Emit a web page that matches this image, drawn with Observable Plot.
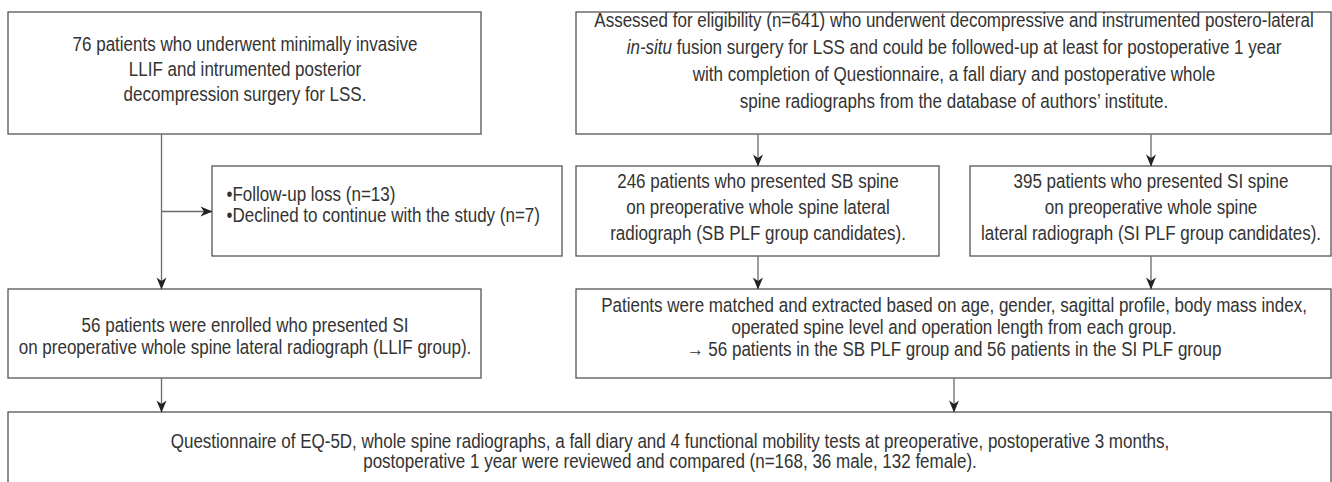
<!DOCTYPE html>
<html><head><meta charset="utf-8">
<script src="https://cdn.jsdelivr.net/npm/d3@7"></script>
<script src="https://cdn.jsdelivr.net/npm/@observablehq/plot@0.6"></script>
<style>html,body{margin:0;padding:0;background:#fff;overflow:hidden}</style>
</head><body><div id="chart"></div>
<script>
// ---- content (text of each box) ----
const boxNames = ["llif", "assessed", "excluded", "sb", "si", "llifGroup", "matched", "final"];
const llifText = ["76 patients who underwent minimally invasive", "LLIF and intrumented posterior", "decompression surgery for LSS."];
const assessedText = ["Assessed for eligibility (n=641) who underwent decompressive and instrumented postero-lateral",
  "in-situ fusion surgery for LSS and could be followed-up at least for postoperative 1 year",
  "with completion of Questionnaire, a fall diary and postoperative whole",
  "spine radiographs from the database of authors\u2019 institute."];
const excludedText = ["\u2022Follow-up loss (n=13)", "\u2022Declined to continue with the study (n=7)"];
const sbText = ["246 patients who presented SB spine", "on preoperative whole spine lateral", "radiograph (SB PLF group candidates)."];
const siText = ["395 patients who presented SI spine", "on preoperative whole spine", "lateral radiograph (SI PLF group candidates)."];
const llifGroupText = ["56 patients were enrolled who presented SI", "on preoperative whole spine lateral radiograph (LLIF group)."];
const matchedText = ["Patients were matched and extracted based on age, gender, sagittal profile, body mass index,",
  "operated spine level and operation length from each group.",
  "\u2192 56 patients in the SB PLF group and 56 patients in the SI PLF group"];
const finalText = ["Questionnaire of EQ-5D, whole spine radiographs, a fall diary and 4 functional mobility tests at preoperative, postoperative 3 months,",
  "postoperative 1 year were reviewed and compared (n=168, 36 male, 132 female)."];
const italicWords = ["in-situ"];
// flow connections
const edgeFrom = ["llif", "llif", "assessed", "assessed", "sb", "si", "llifGroup", "matched"];
const edgeTo   = ["llifGroup", "excluded", "sb", "si", "matched", "matched", "final", "final"];

// ---- layout (pixel grid of the flowchart) ----
const W = 1332, H = 482;
const cols = {L: [8, 481], EX: [212, 562], R: [576, 1331], SB: [576, 939], SI: [970, 1331], ALL: [8, 1331]};
const rows = {r1: [12, 134], r2: [166, 256], r3: [289, 378], r4: [412, 520]};
const place = {
  llif: ["L", "r1"], assessed: ["R", "r1"], excluded: ["EX", "r2"], sb: ["SB", "r2"], si: ["SI", "r2"],
  llifGroup: ["L", "r3"], matched: ["R", "r3"], final: ["ALL", "r4"]
};
const leftLane = 161;
// text block vertical centre and line spacing per box
const textBlock = {
  llif: [75, 25], assessed: [67, 27], excluded: [211, 21], sb: [213, 26], si: [213, 26],
  llifGroup: [342, 22], matched: [333, 22], final: [457.5, 20.5]
};
const texts = {llif: llifText, assessed: assessedText, excluded: excludedText, sb: sbText, si: siText,
  llifGroup: llifGroupText, matched: matchedText, final: finalText};

const boxes = boxNames.map(name => {
  const [c, r] = place[name];
  const [x1, x2] = cols[c], [y1, y2] = rows[r];
  return {name, x1, x2, y1, y2, cx: (x1 + x2) / 2, cy: (y1 + y2) / 2};
});
const B = Object.fromEntries(boxes.map(b => [b.name, b]));

// font: regular sans, horizontally condensed to match the reference's condensed face
const fam = '"Liberation Sans", Arial, "Noto Sans", sans-serif';
const fontSize = 19.5;
const ctx = document.createElement("canvas").getContext("2d");
ctx.font = `${fontSize}px ${fam}`;
const squeeze = 720 / ctx.measureText(assessedText[0]).width;

const centered = [], leftAligned = [];
for (const b of boxes) {
  const t = texts[b.name];
  const [cy, gap] = textBlock[b.name];
  const left = b.name === "excluded";
  t.forEach((s, i) => {
    (left ? leftAligned : centered).push({text: s, x: left ? b.x1 + 14 : b.cx, y: cy + (i - (t.length - 1) / 2) * gap});
  });
}

// connectors
const segs = [], heads = [];
edgeFrom.forEach((f, i) => {
  const a = B[f], b = B[edgeTo[i]];
  if (f === "llif" && edgeTo[i] === "excluded") {
    segs.push({x1: leftLane, y1: b.cy, x2: b.x1, y2: b.cy});
    heads.push({x: b.x1, y: b.cy, rot: -90});
    return;
  }
  let x;
  if (a.cx < 400) x = leftLane;
  else x = (a.x2 - a.x1) < (b.x2 - b.x1) ? a.cx : b.cx;
  segs.push({x1: x, y1: a.y2, x2: x, y2: b.y1});
  heads.push({x, y: b.y1, rot: 0});
});

const arrowHead = {
  draw(c) {
    c.moveTo(0, 0);
    c.lineTo(-5, -12);
    c.lineTo(0, -8.5);
    c.lineTo(5, -12);
    c.closePath();
  }
};

const textStyle = {x: "x", y: "y", text: "text", fontSize, fontFamily: fam, fill: "#333"};
const plot = Plot.plot({
  width: W, height: H,
  margin: 0,
  x: {domain: [0, W], range: [0, W], axis: null},
  y: {domain: [0, H], range: [0, H], axis: null},
  style: {background: "#fff"},
  marks: [
    Plot.link(segs, {x1: "x1", y1: "y1", x2: "x2", y2: "y2", stroke: "#6a6a6a", strokeWidth: 1.3}),
    Plot.rect(boxes, {x1: "x1", x2: "x2", y1: "y1", y2: "y2", fill: "white", stroke: "#555", strokeWidth: 1.3, clip: true}),
    Plot.dot(heads, {x: "x", y: "y", rotate: "rot", symbol: arrowHead, fill: "#222", stroke: "none", r: 5}),
    Plot.text(centered, {...textStyle, textAnchor: "middle"}),
    Plot.text(leftAligned, {...textStyle, textAnchor: "start"})
  ]
});

// italic words and horizontal condensing of text
d3.select(plot).selectAll("text").each(function () {
  const s = this.textContent;
  for (const w of italicWords) {
    const k = s.indexOf(w);
    if (k >= 0) {
      const sel = d3.select(this);
      sel.text(null);
      if (k > 0) sel.append("tspan").text(s.slice(0, k));
      sel.append("tspan").attr("font-style", "italic").text(w);
      sel.append("tspan").text(s.slice(k + w.length));
    }
  }
  let tr = this.getAttribute("transform") || "";
  if (this.hasAttribute("x") || this.hasAttribute("y")) {
    const x = +this.getAttribute("x") || 0, y = +this.getAttribute("y") || 0;
    this.removeAttribute("x"); this.removeAttribute("y");
    tr += ` translate(${x},${y})`;
  }
  this.setAttribute("transform", `${tr} scale(${squeeze},1)`);
});
document.getElementById("chart").append(plot);
</script>
</body></html>
